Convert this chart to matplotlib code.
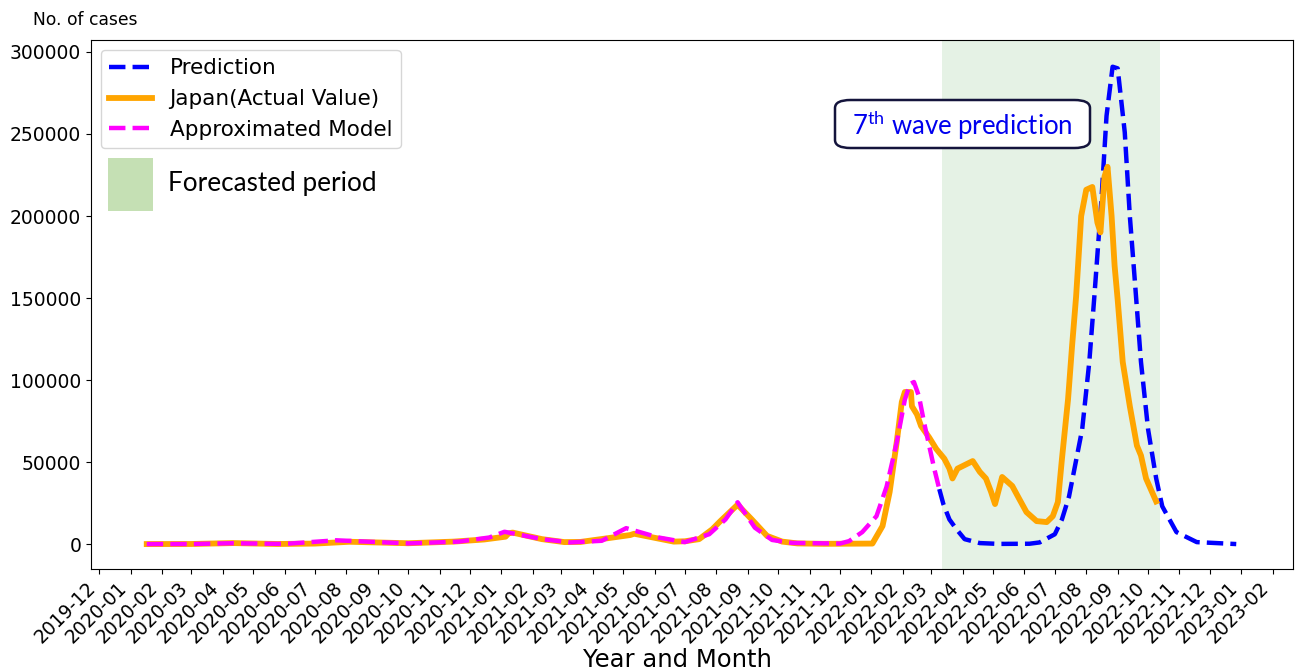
#Curvas de casos en Japon: valor real, modelo aproximado y prediccion de la 7a ola

import matplotlib
matplotlib.use("Agg")
import matplotlib.pyplot as plt
import matplotlib.dates as mdates
from matplotlib.patches import Rectangle, FancyBboxPatch
import numpy as np
import pandas as pd


#Valores reales (media semanal)
fechasReal = ["2020-01-17", "2020-03-01", "2020-04-11", "2020-05-25", "2020-07-01", "2020-08-04",
              "2020-10-01", "2020-11-15", "2020-12-15", "2021-01-05", "2021-01-08", "2021-01-12",
              "2021-02-10", "2021-03-04", "2021-03-20", "2021-04-15", "2021-05-08", "2021-05-12",
              "2021-06-20", "2021-07-01", "2021-07-15", "2021-07-28", "2021-08-05", "2021-08-22",
              "2021-09-05", "2021-09-20", "2021-10-05", "2021-10-20", "2021-11-15", "2022-01-02",
              "2022-01-12", "2022-01-19", "2022-01-26", "2022-01-31", "2022-02-03", "2022-02-09",
              "2022-02-10", "2022-02-15", "2022-02-19", "2022-02-27", "2022-03-06", "2022-03-14",
              "2022-03-19", "2022-03-22", "2022-03-27", "2022-04-11", "2022-04-18", "2022-04-24",
              "2022-04-29", "2022-05-03", "2022-05-10", "2022-05-20", "2022-05-27", "2022-06-03",
              "2022-06-13", "2022-06-23", "2022-06-29", "2022-07-04", "2022-07-08", "2022-07-12",
              "2022-07-14", "2022-07-15", "2022-07-18", "2022-07-22", "2022-07-27", "2022-08-01",
              "2022-08-07", "2022-08-12", "2022-08-15", "2022-08-19", "2022-08-22", "2022-08-26",
              "2022-08-29", "2022-09-01", "2022-09-06", "2022-09-13", "2022-09-20", "2022-09-24",
              "2022-09-29", "2022-10-09"]
casosReal = [0, 50, 600, 50, 300, 1400,
             500, 1500, 2800, 4500, 6500, 7000,
             3000, 1200, 1300, 3500, 5500, 6300,
             1500, 1700, 3000, 9000, 14000, 24000,
             15000, 5000, 1500, 400, 150, 300,
             11000, 31700, 62200, 86600, 92700, 92700,
             84000, 79000, 72000, 65000, 58000, 52000,
             46000, 40000, 46000, 50600, 44000, 40000,
             32000, 24400, 40900, 35400, 27400, 19500,
             14000, 13400, 17000, 25600, 51800, 76000,
             88000, 96000, 120700, 151000, 200000, 216000,
             217700, 196000, 190000, 224000, 230000, 200000,
             169500, 149000, 111000, 84000, 60000, 54000,
             40000, 26000]

#Modelo aproximado (hasta el inicio del periodo de prediccion)
fechasModelo = ["2020-01-17", "2020-03-01", "2020-04-10", "2020-06-01", "2020-07-22", "2020-10-01",
                "2020-11-20", "2020-12-20", "2021-01-04", "2021-02-10", "2021-03-10", "2021-04-10",
                "2021-05-04", "2021-06-05", "2021-07-01", "2021-07-25", "2021-08-10", "2021-08-22",
                "2021-09-08", "2021-09-25", "2021-10-15", "2021-12-01", "2021-12-10", "2021-12-23",
                "2022-01-06", "2022-01-16", "2022-01-26", "2022-02-03", "2022-02-08", "2022-02-12",
                "2022-02-17", "2022-02-22", "2022-02-27", "2022-03-04", "2022-03-09"]
casosModelo = [0, 50, 500, 100, 2300, 400,
               1500, 4000, 7500, 3000, 1000, 2000,
               9700, 4000, 1200, 6000, 15000, 25500,
               10000, 2500, 700, 300, 1800, 7300,
               17000, 35000, 62000, 88000, 97500, 98800,
               90000, 74000, 60000, 46000, 33500]

#Prediccion
fechasPred = ["2022-03-09", "2022-03-13", "2022-03-19", "2022-03-26", "2022-04-03", "2022-04-18",
              "2022-05-07", "2022-06-06", "2022-06-16", "2022-07-01", "2022-07-08", "2022-07-15",
              "2022-07-28", "2022-08-04", "2022-08-09", "2022-08-16", "2022-08-21", "2022-08-27",
              "2022-09-01", "2022-09-08", "2022-09-13", "2022-09-18", "2022-09-24", "2022-10-01",
              "2022-10-09", "2022-10-15", "2022-10-29", "2022-11-18", "2022-12-27"]
casosPred = [33500, 24400, 15000, 9000, 3000, 600,
             100, 200, 1000, 6000, 15000, 29000,
             70000, 111000, 151000, 210000, 261000, 291000,
             290000, 251000, 200000, 160000, 111000, 70000,
             40000, 23000, 7300, 1200, 0]

#Periodo pronosticado
inicioPronostico = "2022-03-12"
finPronostico = "2022-10-13"


W, H = 1295, 672

fig = plt.figure(figsize=(W / 100, H / 100), dpi=100)
ax = fig.add_axes([91 / W, 1 - 569 / H, (1293 - 91) / W, (569 - 40) / H])

ax.axvspan(pd.Timestamp(inicioPronostico), pd.Timestamp(finPronostico), color="green", alpha=0.1, lw=0)

ax.plot(pd.to_datetime(fechasPred), casosPred, "--", color="blue", lw=3.2, label="Prediction")
ax.plot(pd.to_datetime(fechasReal), casosReal, "-", color="orange", lw=4.2, label="Japan(Actual Value)")
ax.plot(pd.to_datetime(fechasModelo), casosModelo, "--", color="magenta", lw=3.2, label="Approximated Model")

ax.set_xlim(pd.Timestamp("2019-11-23"), pd.Timestamp("2023-02-21"))
ax.set_ylim(-15200, 307300)

ax.xaxis.set_major_locator(mdates.MonthLocator())
ax.xaxis.set_major_formatter(mdates.DateFormatter("%Y-%m"))
plt.setp(ax.get_xticklabels(), rotation=45, ha="right")
ax.tick_params(labelsize=13.5)
ax.set_xlabel("Year and Month", fontsize=17.5)
ax.xaxis.set_label_coords(0.488, -0.149)

ax.legend(loc="upper left", fontsize=15.5, bbox_to_anchor=(0.0, 1.0), borderaxespad=0.45)

#Textos de la figura
fig.text(33 / W, 1 - 20 / H, "No. of cases", fontsize=12.3, va="center", ha="left")

fig.patches.append(Rectangle((108 / W, 1 - 211 / H), 45 / W, 53 / H, transform=fig.transFigure,
                             facecolor="#c5e0b4", edgecolor="none"))
fig.text(168 / W, 1 - 184 / H, "Forecasted period", fontsize=18.8, family="Lato", va="center", ha="left")

fig.patches.append(FancyBboxPatch((835 / W, 1 - 148 / H), 255 / W, 48 / H, transform=fig.transFigure,
                                  boxstyle="round,pad=0,rounding_size=0.012", facecolor="white",
                                  edgecolor="#14143c", lw=1.8, zorder=5))
plt.rcParams["mathtext.fontset"] = "custom"
plt.rcParams["mathtext.rm"] = "Lato"
fig.text(962 / W, 1 - 125 / H, r"7$^{\mathrm{th}}$ wave prediction", fontsize=18.5, family="Lato",
         color="#0000ee", va="center", ha="center", zorder=6)

fig.savefig("out.png", dpi=100)
